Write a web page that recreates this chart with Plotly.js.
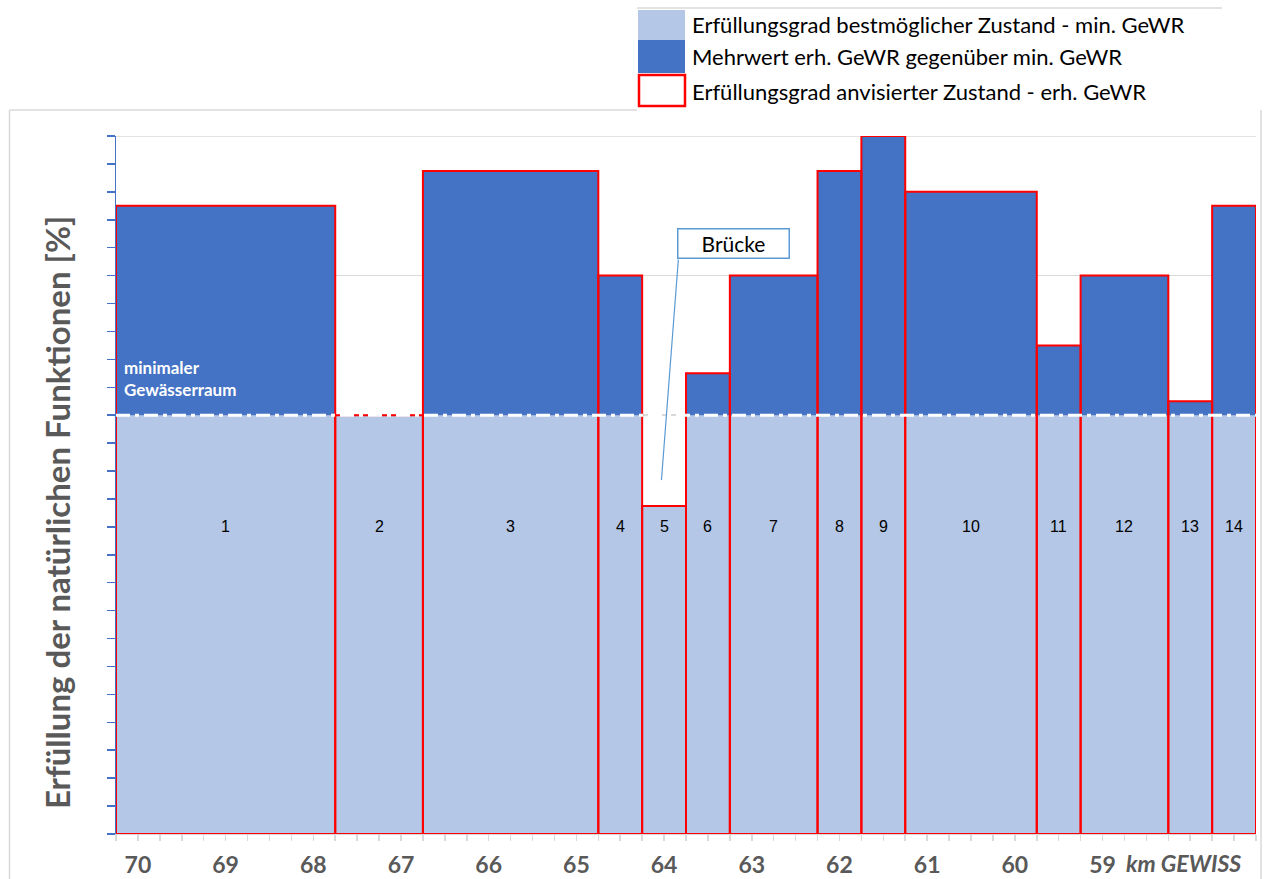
<!DOCTYPE html>
<html>
<head>
<meta charset="utf-8">
<script src="https://cdn.plot.ly/plotly-3.0.1.min.js"></script>
<style>html,body{margin:0;padding:0;background:#fff;}#chart{width:1268px;height:879px;}</style>
</head>
<body>
<div id="chart"></div>
<script>
// ---- data ----
const kmEdges = [70.25, 67.75, 66.75, 64.75, 64.25, 63.75, 63.25, 62.25, 61.75, 61.25, 59.75, 59.25, 58.25, 57.75, 57.25];
const segLabels = ['1','2','3','4','5','6','7','8','9','10','11','12','13','14'];
const minBase = [60, 60, 60, 60, 47, 60, 60, 60, 60, 60, 60, 60, 60, 60];
const targetTop = [90, 60, 95, 80, 47, 66, 80, 95, 100, 92, 70, 80, 62, 90];
const minGeWR = 60;
const kmTicks = [70, 69, 68, 67, 66, 65, 64, 63, 62, 61, 60, 59];
const seriesNames = [
  'Erfüllungsgrad bestmöglicher Zustand - min. GeWR',
  'Mehrwert erh. GeWR gegenüber min. GeWR',
  'Erfüllungsgrad anvisierter Zustand - erh. GeWR'
];
const labelY = 44.0;

// ---- derived ----
const centers = segLabels.map((_, i) => (kmEdges[i] + kmEdges[i + 1]) / 2);
const widths = segLabels.map((_, i) => kmEdges[i] - kmEdges[i + 1]);
const addVal = targetTop.map((t, i) => t - minBase[i]);

const LIGHT = '#B4C7E7', DARK = '#4472C4', RED = '#FF0000';

// pixel helpers for layout decorations (plot area 116..1256 x 136..834)
const PL = 116, PR = 1256, PT = 136, PB = 834;
const px = x => (x - PL) / (PR - PL);
const py = y => (PB - y) / (PB - PT);

const traces = [
  { type: 'bar', x: centers, y: minBase, base: 0, width: widths, name: seriesNames[0],
    marker: { color: LIGHT, line: { width: 0 } }, showlegend: false, hoverinfo: 'skip' },
  { type: 'bar', x: centers, y: addVal, base: minBase, width: widths, name: seriesNames[1],
    marker: { color: DARK, line: { width: 0 } }, showlegend: false, hoverinfo: 'skip' },
  { type: 'bar', x: centers, y: targetTop, base: 0, width: widths, name: seriesNames[2],
    marker: { color: 'rgba(0,0,0,0)', line: { color: RED, width: 2 } }, showlegend: false, hoverinfo: 'skip' },
  { type: 'scatter', mode: 'lines', x: [kmEdges[0], kmEdges[kmEdges.length - 1]], y: [minGeWR, minGeWR],
    line: { color: '#FFFFFF', width: 3, dash: '14px,5px,4px,5px' }, showlegend: false, hoverinfo: 'skip' }
];

const annotations = [];
segLabels.forEach((t, i) => annotations.push({
  xref: 'x', yref: 'y', x: centers[i], y: labelY, text: t, showarrow: false,
  font: { family: 'Liberation Sans, Arial', size: 16, color: '#000' }
}));
annotations.push({
  xref: 'paper', yref: 'paper', x: px(122), y: py(378), xanchor: 'left', yanchor: 'middle', align: 'left',
  text: 'minimaler<br>Gewässerraum', showarrow: false,
  font: { family: 'Lato', size: 17, color: '#FFFFFF', weight: 'bold' }
});
annotations.push({
  xref: 'paper', yref: 'paper', x: px(733), y: py(243), xanchor: 'center', yanchor: 'middle',
  text: 'Brücke', showarrow: false, bgcolor: '#FFFFFF', bordercolor: '#5B9BD5', borderwidth: 1.5,
  width: 106, height: 24, borderpad: 2,
  font: { family: 'Lato', size: 21, color: '#000' }
});
annotations.push({
  xref: 'x', yref: 'y', x: 64.03, y: 50.7, text: '', showarrow: true, arrowhead: 0,
  ax: 17, ay: -222, arrowcolor: '#5B9BD5', arrowwidth: 1.2
});
annotations.push({
  xref: 'paper', yref: 'paper', x: px(1124), y: py(863), xanchor: 'left', yanchor: 'middle',
  text: '<i>km GEWISS</i>', showarrow: false,
  font: { family: 'Lato', size: 23, color: '#595959', weight: 'bold' }
});
annotations.push({
  xref: 'paper', yref: 'paper', x: px(57), y: py(513), xanchor: 'center', yanchor: 'middle',
  text: 'Erfüllung der natürlichen Funktionen [%]', textangle: -90, showarrow: false,
  font: { family: 'Liberation Sans Narrow, Lato', size: 33, color: '#595959', weight: 'bold' }
});
// legend texts
const legY = [25, 57, 91];
seriesNames.forEach((n, i) => annotations.push({
  xref: 'paper', yref: 'paper', x: px(690), y: py(legY[i]), xanchor: 'left', yanchor: 'middle',
  text: n, showarrow: false, font: { family: 'Lato', size: 22, color: '#000' }
}));

const shapes = [
  // top gridline at 100 %
  { type: 'line', xref: 'paper', yref: 'y', x0: 0, x1: 1, y0: 100, y1: 100, layer: 'below', line: { color: '#D9D9D9', width: 1.5 } },
  // chart frame
  { type: 'line', xref: 'paper', yref: 'paper', x0: px(9.5), x1: px(9.5), y0: py(110), y1: py(879), line: { color: '#D9D9D9', width: 1.5 } },
  { type: 'line', xref: 'paper', yref: 'paper', x0: px(9.5), x1: px(637), y0: py(110), y1: py(110), line: { color: '#D9D9D9', width: 1.5 } },
  { type: 'line', xref: 'paper', yref: 'paper', x0: px(1261), x1: px(1261), y0: py(110), y1: py(879), line: { color: '#D9D9D9', width: 1.5 } },
  { type: 'line', xref: 'paper', yref: 'paper', x0: px(637), x1: px(1222), y0: py(8), y1: py(8), line: { color: '#D9D9D9', width: 1.5 } },
  // legend swatches
  { type: 'rect', xref: 'paper', yref: 'paper', x0: px(638), x1: px(685), y0: py(10), y1: py(40), fillcolor: LIGHT, line: { width: 0 } },
  { type: 'rect', xref: 'paper', yref: 'paper', x0: px(638), x1: px(685), y0: py(40), y1: py(73), fillcolor: DARK, line: { width: 0 } },
  { type: 'rect', xref: 'paper', yref: 'paper', x0: px(639), x1: px(685), y0: py(75), y1: py(106), fillcolor: '#FFFFFF', line: { color: RED, width: 2.5 } }
];

const layout = {
  width: 1268, height: 879,
  margin: { l: PL, r: 1268 - PR, t: PT, b: 879 - PB, pad: 0 },
  paper_bgcolor: '#FFFFFF', plot_bgcolor: '#FFFFFF',
  barmode: 'overlay', showlegend: false,
  xaxis: {
    range: [kmEdges[0], kmEdges[kmEdges.length - 1]],
    tickmode: 'array', tickvals: kmTicks, ticktext: kmTicks.map(String),
    ticks: 'outside', ticklen: 6, tickcolor: '#D9D9D9', tickwidth: 1.5,
    showline: true, linecolor: '#D9D9D9', linewidth: 1, showgrid: false, zeroline: false,
    ticklabelstandoff: 4,
    tickfont: { family: 'Lato', size: 23, color: '#595959', weight: 'bold' },
    minor: { tickmode: 'linear', tick0: 0, dtick: 0.25, ticks: 'outside', ticklen: 6, tickcolor: '#D9D9D9', tickwidth: 1.5, showgrid: false }
  },
  yaxis: {
    range: [0, 100], tickmode: 'linear', tick0: 0, dtick: 20,
    ticks: 'outside', ticklen: 8, tickcolor: DARK, tickwidth: 1.5,
    showticklabels: false, showline: true, linecolor: DARK, linewidth: 1.5,
    showgrid: true, gridcolor: '#D9D9D9', gridwidth: 1.5, zeroline: false,
    minor: { tickmode: 'linear', tick0: 0, dtick: 4, ticks: 'outside', ticklen: 8, tickcolor: DARK, tickwidth: 1.5, showgrid: false }
  },
  annotations: annotations,
  shapes: shapes
};

Plotly.newPlot('chart', traces, layout, { displayModeBar: false, staticPlot: true });
</script>
</body>
</html>
